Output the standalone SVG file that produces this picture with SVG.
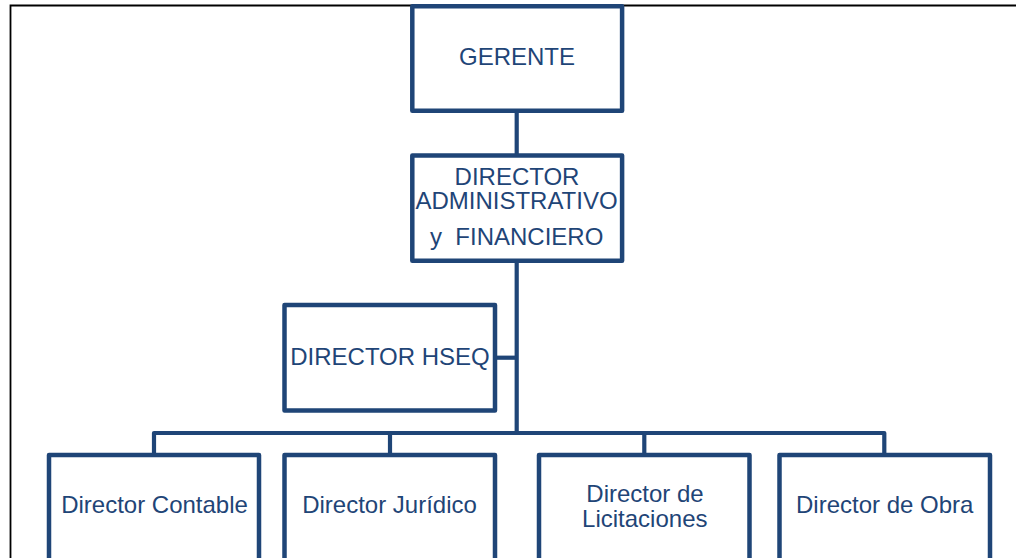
<svg xmlns="http://www.w3.org/2000/svg" width="1016" height="558" viewBox="0 0 1016 558">
<style>
.box{fill:#fff;stroke:#1F4577;stroke-width:4.5;stroke-linejoin:round}
.ln{fill:none;stroke:#1F4577;stroke-width:4.2;stroke-linejoin:round}
.t{font-family:"Liberation Sans",Arial,sans-serif;font-size:24px;fill:#1F4577;text-anchor:middle}
</style>
<rect width="1016" height="558" fill="#fff"/>
<path d="M10.5 558 V5.5 H1016" fill="none" stroke="#000" stroke-width="1.8"/>
<g id="connectors">
<line class="ln" x1="516.7" y1="110" x2="516.7" y2="156"/>
<polyline class="ln" points="516.7,260 516.7,433"/>
<line class="ln" x1="494" y1="357.7" x2="516.7" y2="357.7"/>
<polyline class="ln" points="154,455 154,433 884.3,433 884.3,455"/>
<line class="ln" x1="390" y1="433" x2="390" y2="455"/>
<line class="ln" x1="644.3" y1="433" x2="644.3" y2="455"/>
</g>
<g id="gerente">
<rect class="box" x="412.3" y="6.3" width="209.8" height="104.5"/>
<text class="t" x="517" y="65">GERENTE</text>
</g>
<g id="director-administrativo">
<rect class="box" x="412.3" y="155.5" width="209.8" height="105.3"/>
<text class="t" x="517" y="185">DIRECTOR</text>
<text class="t" x="516.5" y="209.3">ADMINISTRATIVO</text>
<text class="t" x="516.7" y="245" xml:space="preserve">y  FINANCIERO</text>
</g>
<g id="director-hseq">
<rect class="box" x="284.5" y="305" width="210.5" height="105.5"/>
<text class="t" x="390" y="365">DIRECTOR HSEQ</text>
</g>
<g id="director-contable">
<rect class="box" x="49" y="455" width="210" height="106"/>
<text class="t" x="154.5" y="513.3">Director Contable</text>
</g>
<g id="director-juridico">
<rect class="box" x="284.5" y="455" width="210.5" height="106"/>
<text class="t" x="389.5" y="513.3">Director Jurídico</text>
</g>
<g id="director-licitaciones">
<rect class="box" x="539" y="455" width="210.5" height="106"/>
<text class="t" x="645" y="501.7">Director de</text>
<text class="t" x="644.8" y="526.7">Licitaciones</text>
</g>
<g id="director-obra">
<rect class="box" x="779.5" y="455" width="210.5" height="106"/>
<text class="t" x="884.7" y="513.3">Director de Obra</text>
</g>
</svg>
